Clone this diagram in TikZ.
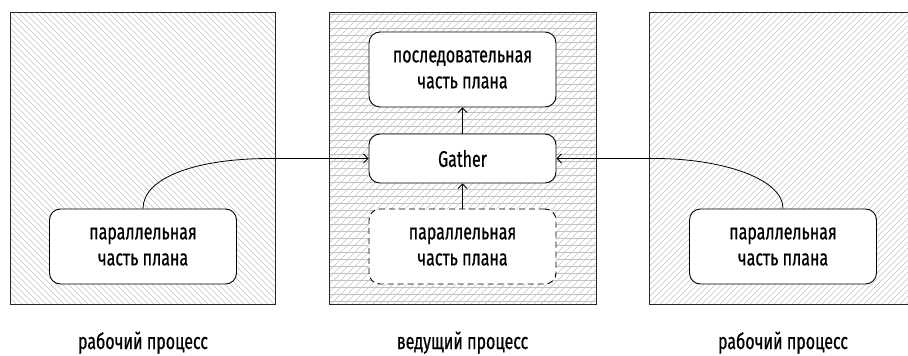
\documentclass[tikz,border=0pt]{standalone}
\usepackage{fontspec}
\setmainfont[FakeStretch=0.71,FakeBold=0.6]{Fira Sans}
\usetikzlibrary{arrows.meta}
\tikzset{
  procbox/.style={draw=black!85, line width=0.9pt},
  hatch/.style={draw=black!24, line width=0.45pt},
  plan/.style={draw=black, line width=0.9pt, fill=white, rounded corners=11pt,
    minimum width=187pt, minimum height=75pt, align=center, inner sep=0pt,
    font=\fontsize{22.5}{26}\selectfont},
  gat/.style={plan, minimum height=49pt},
  conn/.style={draw=black, line width=0.8pt, -{Straight Barb[length=4.5pt,width=9pt]}},
  caption/.style={anchor=base, font=\fontsize{22.5}{24}\selectfont}
}
\begin{document}
\begin{tikzpicture}[x=1pt,y=-1pt]
\useasboundingbox (0,0) rectangle (908,356);
% left worker box: north west lines
\begin{scope}
\clip (10,12) rectangle (275.5,304.5);
\foreach \i in {-300,-294,...,280} \draw[hatch] (\i,0) -- ++(320,320);
\end{scope}
\draw[procbox] (10,12) rectangle (275.5,304.5);
% middle leader box: north east lines + horizontal
\begin{scope}
\clip (329,12) rectangle (596,304.5);
\foreach \i in {320,327,...,930} \draw[hatch] (\i,0) -- ++(-320,320);
\foreach \j in {14,21,...,304} \draw[hatch] (329,\j) -- (596,\j);
\end{scope}
\draw[procbox] (329,12) rectangle (596,304.5);
% right worker box: north east lines
\begin{scope}
\clip (649,12) rectangle (915,304.5);
\foreach \i in {640,646,...,1240} \draw[hatch] (\i,0) -- ++(-320,320);
\end{scope}
\draw[procbox] (649,12) rectangle (915,304.5);

\node[plan] (seq) at (462.5,69.5) {последовательная\\часть плана};
\node[gat] (g) at (462.5,158.5) {Gather};
\node[plan, dashed, dash pattern=on 6pt off 4pt] (mp) at (462.5,246.5) {параллельная\\часть плана};
\node[plan] (lp) at (143,246.5) {параллельная\\часть плана};
\node[plan] (rp) at (783,246.5) {параллельная\\часть плана};

\coordinate (lc) at (270,158.5);
\coordinate (rc) at (655,158.5);

\draw[conn] (g) -- (seq);
\draw[conn] (mp) -- (g);
\draw[conn] (lp.north) .. controls (143,178) and (195,158.5) .. (lc) -- (g.west);
\draw[conn] (rp.north) .. controls (783,178) and (720,158.5) .. (rc) -- (g.east);

\node[caption] (c1) at (143,349) {рабочий процесс};
\node[caption] (c2) at (462.5,349) {ведущий процесс};
\node[caption] (c3) at (783,349) {рабочий процесс};
\end{tikzpicture}
\end{document}
